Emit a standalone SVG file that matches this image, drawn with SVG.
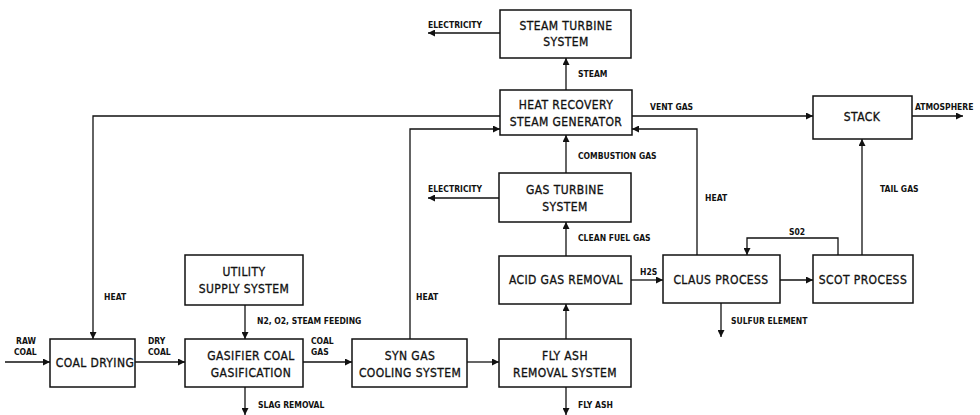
<svg xmlns="http://www.w3.org/2000/svg" width="980" height="415" viewBox="0 0 980 415">
<defs>
<marker id="ah" viewBox="0 0 10 10" refX="10" refY="5" markerWidth="9" markerHeight="7" markerUnits="userSpaceOnUse" orient="auto">
<path d="M0,0 L10,5 L0,10 z" fill="#111"/>
</marker>
<style>
.box{fill:#fff;stroke:#111;stroke-width:1.5}
.bt{font-family:"DejaVu Sans Condensed","DejaVu Sans",sans-serif;font-size:12px;fill:#111;text-anchor:middle;stroke:#111;stroke-width:0.3;letter-spacing:0.4px}
.lb{font-family:"DejaVu Sans Condensed","DejaVu Sans",sans-serif;font-size:8.5px;font-weight:bold;fill:#111}
.ar{fill:none;stroke:#111;stroke-width:1.3;marker-end:url(#ah)}
</style>
</defs>
<rect width="980" height="415" fill="#fff"/>
<g id="connectors">
<path class="ar" d="M500,33 H428"/>
<path class="ar" d="M566,90 V58"/>
<path class="ar" d="M500,116 H93 V339"/>
<path class="ar" d="M410,339 V129 H500"/>
<path class="ar" d="M697,255 V129 H632"/>
<path class="ar" d="M632,116 H813"/>
<path class="ar" d="M912,116 H963"/>
<path class="ar" d="M862,255 V139"/>
<path class="ar" d="M838,255 V238 H747 V255"/>
<path class="ar" d="M780,280 H813"/>
<path class="ar" d="M631,280 H663"/>
<path class="ar" d="M566,256 V222"/>
<path class="ar" d="M566,173 V135"/>
<path class="ar" d="M499,198 H428"/>
<path class="ar" d="M566,339 V304"/>
<path class="ar" d="M566,387 V415"/>
<path class="ar" d="M467,362 H499"/>
<path class="ar" d="M303,362 H352"/>
<path class="ar" d="M135,362 H185"/>
<path class="ar" d="M5,362 H50"/>
<path class="ar" d="M245,305 V339"/>
<path class="ar" d="M245,387 V415"/>
<path class="ar" d="M721,303 V337"/>
</g>
<g id="labels">
<text class="lb" x="428" y="28">ELECTRICITY</text>
<text class="lb" x="578" y="77">STEAM</text>
<text class="lb" x="650" y="110">VENT GAS</text>
<text class="lb" x="915" y="110">ATMOSPHERE</text>
<text class="lb" x="578" y="159">COMBUSTION GAS</text>
<text class="lb" x="428" y="192">ELECTRICITY</text>
<text class="lb" x="705" y="201">HEAT</text>
<text class="lb" x="880" y="192">TAIL GAS</text>
<text class="lb" x="789" y="235">S02</text>
<text class="lb" x="578" y="241">CLEAN FUEL GAS</text>
<text class="lb" x="640" y="275">H2S</text>
<text class="lb" x="104" y="300">HEAT</text>
<text class="lb" x="416" y="300">HEAT</text>
<text class="lb" x="257" y="324">N2, O2, STEAM FEEDING</text>
<text class="lb" x="16" y="344">RAW</text>
<text class="lb" x="14" y="355">COAL</text>
<text class="lb" x="148" y="344">DRY</text>
<text class="lb" x="148" y="355">COAL</text>
<text class="lb" x="311" y="344">COAL</text>
<text class="lb" x="311" y="355">GAS</text>
<text class="lb" x="258" y="408">SLAG REMOVAL</text>
<text class="lb" x="578" y="408">FLY ASH</text>
<text class="lb" x="731" y="324">SULFUR ELEMENT</text>
</g>
<g id="steam-turbine"><rect class="box" x="500" y="10" width="131" height="48"/><text class="bt" x="566" y="30">STEAM TURBINE</text><text class="bt" x="566" y="46">SYSTEM</text></g>
<g id="hrsg"><rect class="box" x="500" y="90" width="132" height="45"/><text class="bt" x="566" y="109">HEAT RECOVERY</text><text class="bt" x="566" y="126">STEAM GENERATOR</text></g>
<g id="stack"><rect class="box" x="813" y="96" width="99" height="43"/><text class="bt" x="862" y="121">STACK</text></g>
<g id="gas-turbine"><rect class="box" x="499" y="173" width="132" height="49"/><text class="bt" x="565" y="194">GAS TURBINE</text><text class="bt" x="565" y="211">SYSTEM</text></g>
<g id="acid-gas"><rect class="box" x="499" y="256" width="132" height="48"/><text class="bt" x="566" y="284">ACID GAS REMOVAL</text></g>
<g id="claus"><rect class="box" x="663" y="255" width="117" height="48"/><text class="bt" x="721" y="284">CLAUS PROCESS</text></g>
<g id="scot"><rect class="box" x="813" y="255" width="100" height="48"/><text class="bt" x="863" y="284">SCOT PROCESS</text></g>
<g id="utility"><rect class="box" x="185" y="255" width="118" height="50"/><text class="bt" x="244" y="276">UTILITY</text><text class="bt" x="244" y="293">SUPPLY SYSTEM</text></g>
<g id="coal-drying"><rect class="box" x="50" y="339" width="85" height="48"/><text class="bt" x="95" y="367">COAL DRYING</text></g>
<g id="gasifier"><rect class="box" x="185" y="339" width="118" height="48"/><text class="bt" x="251" y="360">GASIFIER COAL</text><text class="bt" x="251" y="377">GASIFICATION</text></g>
<g id="syn-gas"><rect class="box" x="352" y="339" width="115" height="48"/><text class="bt" x="410" y="360">SYN GAS</text><text class="bt" x="410" y="377">COOLING SYSTEM</text></g>
<g id="fly-ash"><rect class="box" x="499" y="339" width="132" height="48"/><text class="bt" x="565" y="360">FLY ASH</text><text class="bt" x="565" y="377">REMOVAL SYSTEM</text></g>
</svg>
